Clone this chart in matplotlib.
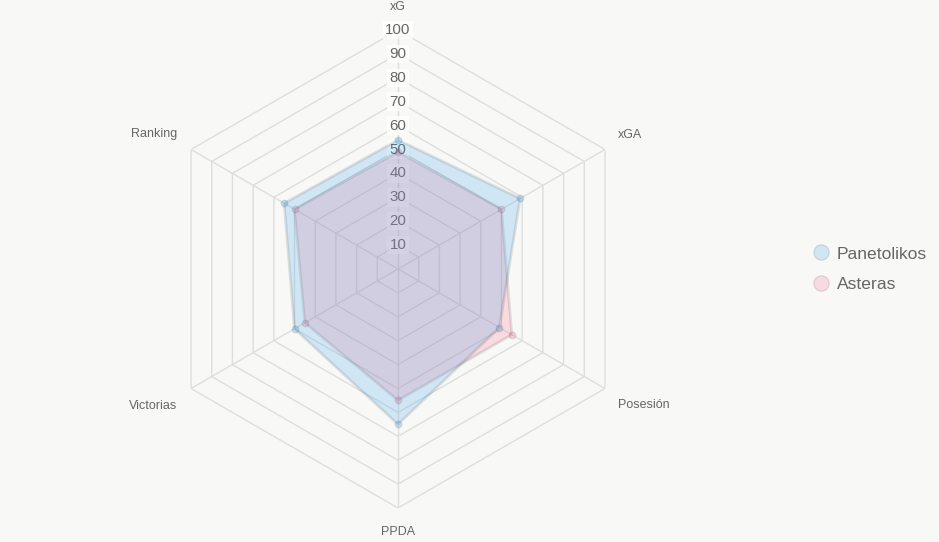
import numpy as np
import matplotlib.pyplot as plt
from matplotlib.lines import Line2D

labels = ["xG", "xGA", "Posesión", "PPDA", "Victorias", "Ranking"]
panetolikos = [54, 59, 49, 65, 50, 55]
asteras = [49, 50, 55, 55, 45, 50]
ticks = [10, 20, 30, 40, 50, 60, 70, 80, 90, 100]

BG = "#f8f8f7"
GRID = "#dedede"
TXT = "#666666"
plt.rcParams["font.family"] = ["Liberation Sans", "DejaVu Sans"]

fig = plt.figure(figsize=(9.39, 5.42), dpi=100, facecolor=BG)
W, H = 939, 542
cx, cy, R = 398, 269, 239
ax = fig.add_axes([(cx - R) / W, (H - cy - R) / H, 2 * R / W, 2 * R / H], projection="polar")
ax.set_facecolor("none")
ax.set_theta_offset(np.pi / 2)
ax.set_theta_direction(-1)
ax.set_ylim(0, 100)
ax.grid(False)
ax.spines["polar"].set_visible(False)
ax.set_xticks([])
ax.set_yticks([])

n = len(labels)
theta = np.arange(n) * 2 * np.pi / n
closed = np.append(theta, theta[0])

# hexagonal grid
for t in ticks:
    ax.plot(closed, [t] * (n + 1), color=GRID, lw=1, zorder=1)
for th in theta:
    ax.plot([th, th], [0, 100], color=GRID, lw=1, zorder=1)

# radial tick labels (under the datasets, like chart.js)
for t in ticks:
    ax.text(0, t, str(t), ha="center", va="center", fontsize=10.8, color=TXT, zorder=1.5,
            bbox=dict(boxstyle="square,pad=0.15", fc=(1, 1, 1, 0.75), ec="none"))

blue = (54 / 255, 162 / 255, 235 / 255)
pink = (255 / 255, 99 / 255, 132 / 255)
series = [("Panetolikos", panetolikos, blue), ("Asteras", asteras, pink)]
# first dataset ends up on top
for z, (name, vals, col) in zip([3, 2], series):
    v = np.append(vals, vals[0])
    ax.fill(closed, v, color=col, alpha=0.2, lw=0, zorder=z)
    ax.plot(closed, v, color=(0, 0, 0, 0.1), lw=2, zorder=z + 0.1)
    ax.scatter(theta, vals, s=22, color=(*col, 0.25), edgecolors=(0, 0, 0, 0.1), lw=1, zorder=z + 0.2)

# point labels
offsets = [(0, 23, "center"), (13, 15, "left"), (13, -17, "left"),
           (0, -24, "center"), (-14, -17, "right"), (-14, 15, "right")]
for th, lab, (dx, dy, ha) in zip(theta, labels, offsets):
    ax.annotate(lab, xy=(th, 100), xytext=(dx, dy), textcoords="offset pixels",
                ha=ha, va="center", fontsize=9, color=TXT, annotation_clip=False)

handles = [Line2D([], [], ls="none", marker="o", markersize=11,
                  markerfacecolor=(*col, 0.2), markeredgecolor=(0, 0, 0, 0.1), markeredgewidth=1)
           for _, _, col in series]
fig.legend(handles, [s[0] for s in series], loc="center left", bbox_to_anchor=(795 / W, 1 - 269 / H),
           frameon=False, fontsize=12.6, labelcolor=TXT, handletextpad=0.3, labelspacing=0.85,
           handlelength=1.2)

fig.savefig("out.png", dpi=100, facecolor=BG)
